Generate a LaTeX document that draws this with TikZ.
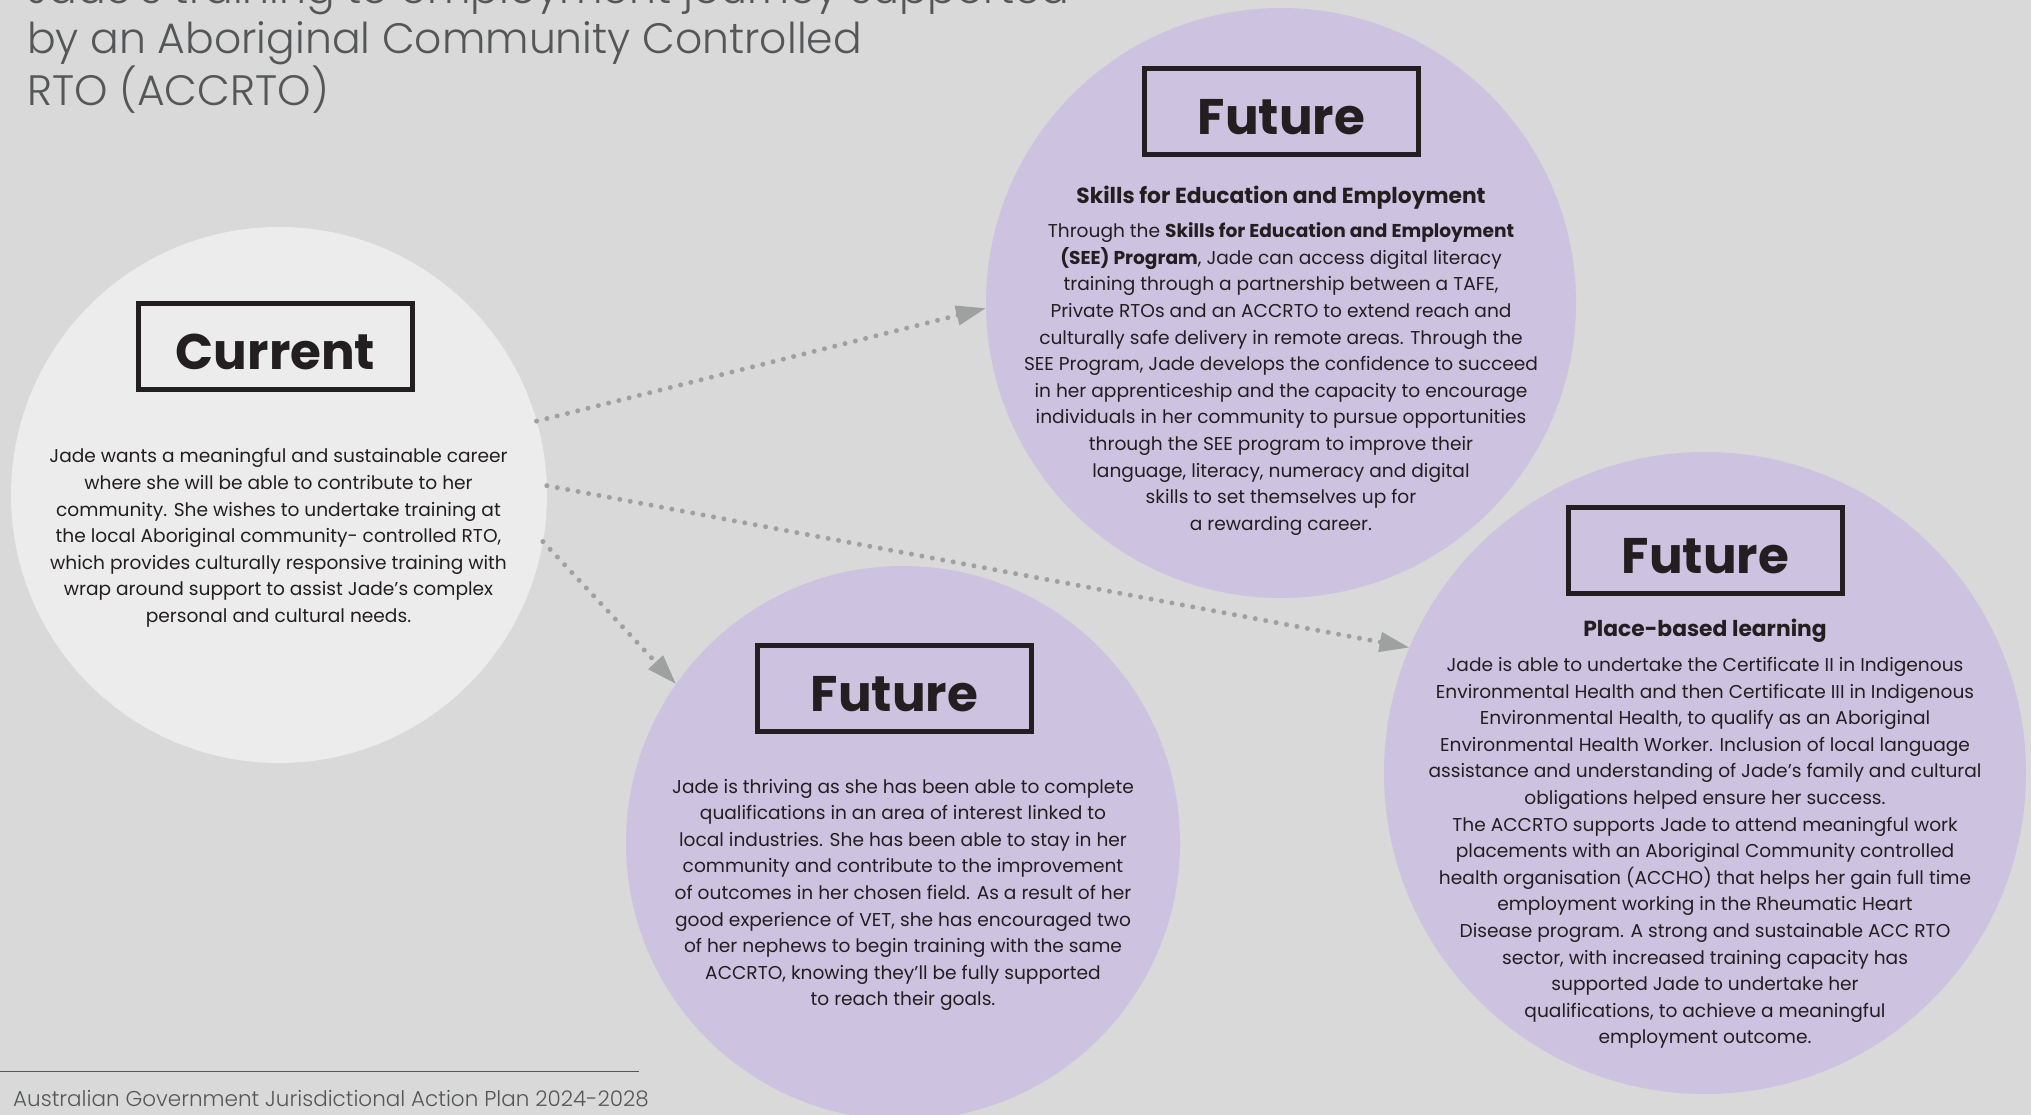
\documentclass[tikz,border=0pt]{standalone}
\usepackage{fontspec}
\setmainfont{Poppins}
\newfontfamily\lightfont{Poppins Light}
\usepackage{tikz}
\usetikzlibrary{arrows.meta, positioning}
\definecolor{bggray}{HTML}{D8D9D8}
\definecolor{nowfill}{HTML}{EBECEB}
\definecolor{lilac}{HTML}{CDC3E1}
\definecolor{ink}{HTML}{231F20}
\definecolor{dotgray}{HTML}{9FA0A0}
\definecolor{titlegray}{HTML}{555657}
\tikzstyle{bubble} = [circle, inner sep=0pt, outer sep=0pt]
\tikzstyle{tag} = [draw=ink, line width=5pt, minimum width=274pt, minimum height=86pt, inner sep=0pt, text height=46pt, text depth=0pt, text=ink, font=\fontsize{50}{50}\selectfont\bfseries]
\tikzstyle{head} = [inner sep=0pt, text=ink, font=\fontsize{21.8}{24}\selectfont\bfseries]
\tikzstyle{body} = [align=center, inner sep=0pt, text=ink, font=\fontsize{18.6}{26.6}\selectfont]
\tikzstyle{journey} = [draw=dotgray, line width=5pt, line cap=round, dash pattern=on 0pt off 10.6pt, -{Triangle[length=30pt, width=19pt]}]

\begin{document}
\begin{tikzpicture}[x=1pt, y=-1pt]
\fill[bggray] (0,0) rectangle (2031,1115);
\useasboundingbox (0,0) rectangle (2031,1115);

% title and footer
\node (title) [anchor=north west, inner sep=0pt, align=left, text=titlegray, font=\lightfont\fontsize{42.5}{50}\selectfont] at (27,-29) {Jade’s training to employment journey supported\\by an Aboriginal Community Controlled\\RTO (ACCRTO)};
\draw[titlegray, line width=1.5pt] (0,1071.5) -- (639,1071.5);
\node (foot) [anchor=base west, inner sep=0pt, text=titlegray, font=\lightfont\fontsize{21.5}{24}\selectfont] at (13,1106) {Australian Government Jurisdictional Action Plan 2024-2028};

% circles
\node (current) [bubble, fill=nowfill, minimum size=536pt] at (279,495) {};
\node (futtop) [bubble, fill=lilac, minimum size=590pt] at (1281,303) {};
\node (futbot) [bubble, fill=lilac, minimum size=554pt] at (903,843) {};
\node (futright) [bubble, fill=lilac, minimum size=642pt] at (1705,773) {};

% current
\node (curtag) [tag] at (275.5,346) {Current};
\node (curtxt) [body] at (278.5,538) {Jade wants a meaningful and sustainable career\\where she will be able to contribute to her\\community. She wishes to undertake training at\\the local Aboriginal community- controlled RTO,\\which provides culturally responsive training with\\wrap around support to assist Jade’s complex\\personal and cultural needs.};

% future: SEE program
\node (toptag) [tag] at (1281.5,111.5) {Future};
\node (tophead) [head] at (1281,198) {Skills for Education and Employment};
\node (toptxt) [body] at (1281,379) {Through the \textbf{Skills for Education and Employment}\\\textbf{(SEE) Program}, Jade can access digital literacy\\training through a partnership between a TAFE,\\Private RTOs and an ACCRTO to extend reach and\\culturally safe delivery in remote areas. Through the\\SEE Program, Jade develops the confidence to succeed\\in her apprenticeship and the capacity to encourage\\individuals in her community to pursue opportunities\\through the SEE program to improve their\\language, literacy, numeracy and digital\\skills to set themselves up for\\a rewarding career.};

% future: thriving
\node (bottag) [tag] at (894.5,688) {Future};
\node (bottxt) [body] at (903,895) {Jade is thriving as she has been able to complete\\qualifications in an area of interest linked to\\local industries. She has been able to stay in her\\community and contribute to the improvement\\of outcomes in her chosen field. As a result of her\\good experience of VET, she has encouraged two\\of her nephews to begin training with the same\\ACCRTO, knowing they’ll be fully supported\\to reach their goals.};

% future: place-based learning
\node (righttag) [tag] at (1705.5,550.5) {Future};
\node (righthead) [head] at (1705,631) {Place-based learning};
\node (righttxt) [body] at (1705,853) {Jade is able to undertake the Certificate II in Indigenous\\Environmental Health and then Certificate III in Indigenous\\Environmental Health, to qualify as an Aboriginal\\Environmental Health Worker. Inclusion of local language\\assistance and understanding of Jade’s family and cultural\\obligations helped ensure her success.\\The ACCRTO supports Jade to attend meaningful work\\placements with an Aboriginal Community controlled\\health organisation (ACCHO) that helps her gain full time\\employment working in the Rheumatic Heart\\Disease program. A strong and sustainable ACC RTO\\sector, with increased training capacity has\\supported Jade to undertake her\\qualifications, to achieve a meaningful\\employment outcome.};

% journeys
\draw[journey] (current.16.5) -- (futtop.181);
\draw[journey] (current.2) -- (futright.157);
\draw[journey] (current.-10.5) -- (futbot.145);
\end{tikzpicture}
\end{document}
